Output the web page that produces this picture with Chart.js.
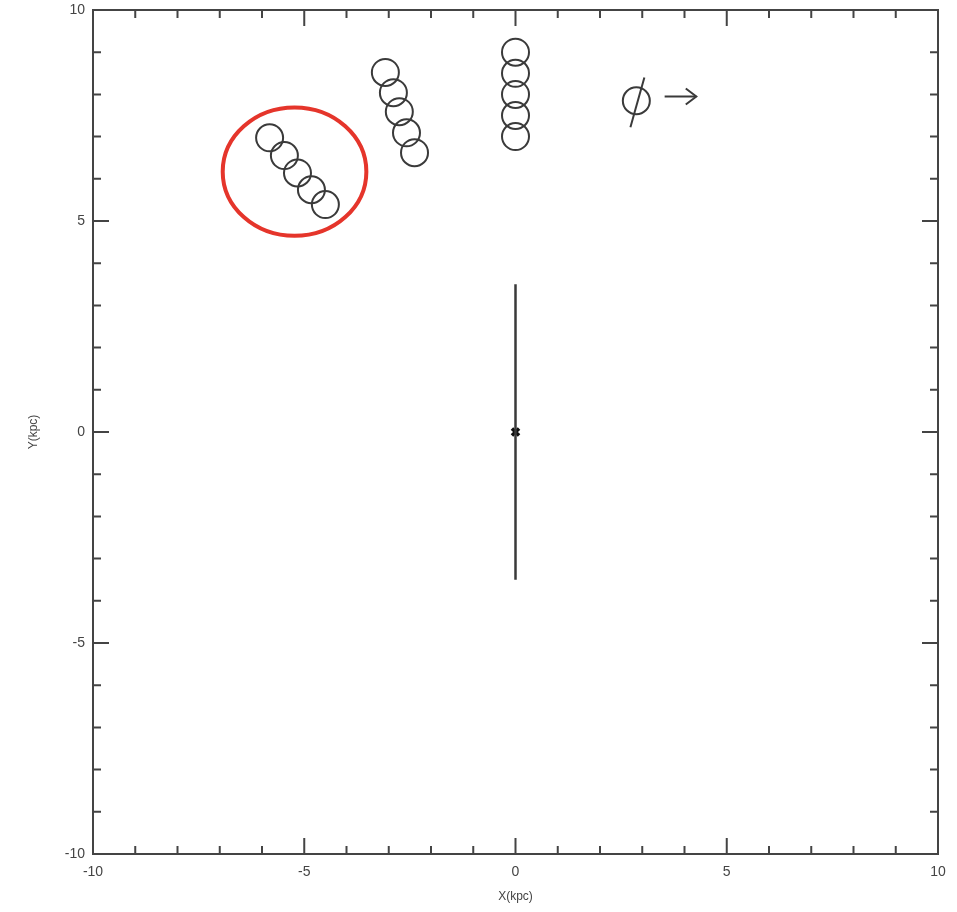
<!DOCTYPE html>
<html>
<head>
<meta charset="utf-8">
<script src="https://cdn.jsdelivr.net/npm/chart.js@4.4.1/dist/chart.umd.min.js"></script>
<style>
  html, body { margin: 0; padding: 0; background: #fff; }
  #wrap { width: 957px; height: 912px; }
</style>
</head>
<body>
<div id="wrap"><canvas id="map"></canvas></div>
<script>
// tick values shared by both axes
const axisTicks = [-10, -5, 0, 5, 10];

// three strings of positions (kpc)
const groupAX = [-5.82, -5.47, -5.16, -4.83, -4.50];
const groupAY = [6.97, 6.55, 6.14, 5.74, 5.39];
const groupBX = [-3.08, -2.89, -2.75, -2.58, -2.39];
const groupBY = [8.52, 8.04, 7.59, 7.09, 6.62];
const groupCX = [0, 0, 0, 0, 0];
const groupCY = [9.0, 8.5, 8.0, 7.5, 7.0];

// sun symbol and direction arrow
const sunX = [2.86];
const sunY = [7.85];
const slashX = [3.05, 2.72];
const slashY = [8.40, 7.22];
const arrowX = [3.53, 4.28];
const arrowY = [7.95, 7.95];
const arrowHeadX = [4.03, 4.28, 4.03];
const arrowHeadY = [8.14, 7.95, 7.76];

// bar through the centre
const barX = [0, 0];
const barY = [-3.5, 3.5];
const centreX = [0];
const centreY = [0];

// red ring around the first group
const ringCentre = [-5.23, 6.17];
const ringRadii = [1.70, 1.52];

const ink = '#3a3a3a';
const pts = (xs, ys) => xs.map((x, i) => ({ x: x, y: ys[i] }));

function ringDataset(xs, ys) {
  return {
    data: pts(xs, ys),
    showLine: false,
    pointStyle: 'circle',
    pointRadius: 13.5,
    pointBorderWidth: 2,
    pointBorderColor: ink,
    pointBackgroundColor: 'rgba(0,0,0,0)'
  };
}

function lineDataset(xs, ys, width) {
  return {
    data: pts(xs, ys),
    showLine: true,
    borderColor: ink,
    borderWidth: width,
    pointRadius: 0,
    fill: false
  };
}

// frame, inward minor/major ticks on all sides, red ring
const frameTicks = {
  id: 'frameTicks',
  afterDatasetsDraw(chart) {
    const { ctx, chartArea: a, scales: { x, y } } = chart;
    ctx.save();
    ctx.strokeStyle = '#444';
    ctx.lineWidth = 2;
    ctx.strokeRect(a.left, a.top, a.right - a.left, a.bottom - a.top);
    for (let v = -10; v <= 10; v++) {
      const len = v % 5 === 0 ? 16 : 8;
      const px = x.getPixelForValue(v);
      const py = y.getPixelForValue(v);
      ctx.beginPath();
      ctx.moveTo(px, a.bottom); ctx.lineTo(px, a.bottom - len);
      ctx.moveTo(px, a.top); ctx.lineTo(px, a.top + len);
      ctx.moveTo(a.left, py); ctx.lineTo(a.left + len, py);
      ctx.moveTo(a.right, py); ctx.lineTo(a.right - len, py);
      ctx.stroke();
    }
    const cx = x.getPixelForValue(ringCentre[0]);
    const cy = y.getPixelForValue(ringCentre[1]);
    const rx = Math.abs(x.getPixelForValue(ringCentre[0] + ringRadii[0]) - cx);
    const ry = Math.abs(y.getPixelForValue(ringCentre[1] + ringRadii[1]) - cy);
    ctx.strokeStyle = '#e5352b';
    ctx.lineWidth = 4;
    ctx.beginPath();
    ctx.ellipse(cx, cy, rx, ry, 0, 0, Math.PI * 2);
    ctx.stroke();
    ctx.restore();
  }
};

const tickFont = { family: 'Liberation Sans', size: 14 };
const titleFont = { family: 'Liberation Sans', size: 12 };

new Chart(document.getElementById('map'), {
  type: 'scatter',
  data: {
    datasets: [
      ringDataset(groupAX, groupAY),
      ringDataset(groupBX, groupBY),
      ringDataset(groupCX, groupCY),
      ringDataset(sunX, sunY),
      lineDataset(slashX, slashY, 2),
      lineDataset(arrowX, arrowY, 2),
      lineDataset(arrowHeadX, arrowHeadY, 2),
      lineDataset(barX, barY, 2.5),
      {
        data: pts(centreX, centreY),
        showLine: false,
        pointStyle: 'crossRot',
        pointRadius: 5,
        pointBorderWidth: 3.5,
        pointBorderColor: '#111'
      }
    ]
  },
  options: {
    responsive: true,
    maintainAspectRatio: false,
    animation: false,
    events: [],
    layout: { autoPadding: false, padding: { top: 10, right: 19, left: 0, bottom: 0 } },
    plugins: { legend: { display: false }, tooltip: { enabled: false } },
    scales: {
      x: {
        type: 'linear',
        min: -10,
        max: 10,
        afterBuildTicks: s => { s.ticks = axisTicks.map(v => ({ value: v })); },
        afterFit: s => { s.height = 58; s.paddingLeft = 0; s.paddingRight = 0; },
        grid: { display: false, drawTicks: false },
        border: { display: false },
        ticks: { color: '#444', font: tickFont, padding: 10, maxRotation: 0 },
        title: { display: true, text: 'X(kpc)', color: '#444', font: titleFont, padding: { top: 0, bottom: 8 } }
      },
      y: {
        type: 'linear',
        min: -10,
        max: 10,
        afterBuildTicks: s => { s.ticks = axisTicks.map(v => ({ value: v })); },
        afterFit: s => { s.width = 93; s.paddingTop = 0; s.paddingBottom = 0; },
        grid: { display: false, drawTicks: false },
        border: { display: false },
        ticks: { color: '#444', font: tickFont, padding: 8 },
        title: { display: true, text: 'Y(kpc)', color: '#444', font: titleFont, padding: { top: 26, bottom: 0 } }
      }
    }
  },
  plugins: [frameTicks]
});
</script>
</body>
</html>
